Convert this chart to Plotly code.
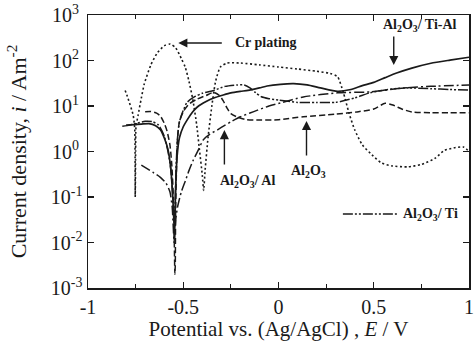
import plotly.graph_objects as go

# ---- data (potential in V vs Ag/AgCl, current density in A m^-2) ----
cr_x = [-0.805, -0.795, -0.763, -0.755, -0.753, -0.752, -0.750, -0.748, -0.737, -0.72, -0.705,
        -0.67, -0.637, -0.60, -0.568, -0.54, -0.51, -0.49, -0.47, -0.45, -0.43, -0.415, -0.40,
        -0.393, -0.385, -0.37, -0.35, -0.33, -0.305, -0.27, -0.2, -0.1, 0.0, 0.1, 0.2, 0.27,
        0.31, 0.34, 0.37, 0.40, 0.44, 0.49, 0.54, 0.6, 0.68, 0.75, 0.82, 0.87, 0.92, 0.97, 1.0]
cr_y = [22, 17, 6.3, 3.3, 1.0, 0.1, 1.0, 3.5, 6.3, 15, 30,
        80, 145, 210, 230, 190, 110, 72, 35, 14, 4, 1.1, 0.3,
        0.14, 0.4, 2, 10, 35, 72, 88, 88, 80, 72, 65, 58, 52,
        44, 20, 7, 3, 1.4, 0.85, 0.56, 0.48, 0.46, 0.52, 0.7, 1.05, 1.2, 1.26, 1.0]

tial_x = [-0.80, -0.76, -0.72, -0.68, -0.645, -0.62, -0.60, -0.58, -0.565, -0.555, -0.549, -0.545,
          -0.54, -0.532, -0.52, -0.50, -0.48, -0.45, -0.426, -0.38, -0.34, -0.29, -0.25, -0.2,
          -0.16, -0.1, -0.06, 0.01, 0.08, 0.15, 0.22, 0.31, 0.38, 0.44, 0.5, 0.56, 0.62, 0.7,
          0.8, 0.9, 1.0]
tial_y = [3.8, 3.9, 4.0, 4.1, 3.7, 3.0, 2.0, 1.1, 0.4, 0.1, 0.03, 0.02,
          0.15, 0.8, 2.0, 3.5, 4.9, 7.5, 9.5, 12.5, 15, 17.5, 19.5, 21,
          22, 25, 27.5, 30, 31, 29, 25, 21, 23, 28, 33, 42, 53, 68,
          87, 102, 118]

al2o3_x = [-0.70, -0.67, -0.64, -0.62, -0.60, -0.585, -0.57, -0.56, -0.552, -0.547, -0.544, -0.542,
           -0.54, -0.535, -0.53, -0.52, -0.50, -0.47, -0.43, -0.38, -0.34, -0.31, -0.29, -0.27,
           -0.25, -0.22, -0.17, -0.1, 0.0, 0.13, 0.3, 0.42, 0.5, 0.56, 0.6, 0.65, 0.7, 0.8, 0.9, 1.0]
al2o3_y = [7.5, 7.6, 7.0, 6.0, 4.2, 2.8, 1.4, 0.5, 0.1, 0.01, 0.002, 0.003,
           0.05, 0.5, 2, 4.5, 7.5, 11, 14, 17, 20, 17, 13, 9,
           6.8, 5.8, 5.0, 4.9, 5.0, 5.8, 6.6, 7.5, 8.6, 11.5, 10.5, 8.5, 7.4, 7.1, 7.1, 7.1]

alal_x = [-0.72, -0.69, -0.66, -0.62, -0.59, -0.57, -0.558, -0.552, -0.548, -0.54, -0.53, -0.51,
          -0.49, -0.47, -0.447, -0.42, -0.395, -0.36, -0.32, -0.28, -0.25, -0.2, -0.15, -0.11,
          -0.05, 0.01, 0.13, 0.31, 0.48, 0.66, 0.8, 1.0]
alal_y = [0.5, 0.42, 0.35, 0.27, 0.2, 0.13, 0.06, 0.02, 0.01, 0.03, 0.06, 0.13,
          0.22, 0.38, 0.65, 1.1, 1.8, 2.4, 3.0, 3.8, 4.5, 5.8, 7, 8.1,
          10, 11.7, 15.8, 19.5, 20.4, 25, 27, 29]

alti_x = [-0.82, -0.78, -0.74, -0.70, -0.66, -0.63, -0.60, -0.58, -0.565, -0.555, -0.549, -0.546,
          -0.543, -0.538, -0.53, -0.52, -0.50, -0.48, -0.44, -0.40, -0.34, -0.28, -0.22, -0.18,
          -0.15, -0.12, -0.09, -0.05, 0.0, 0.1, 0.2, 0.3, 0.4, 0.48, 0.56, 0.66, 0.8, 0.9, 1.0]
alti_y = [3.6, 3.8, 4.2, 4.6, 4.5, 3.8, 2.2, 1.0, 0.4, 0.1, 0.03, 0.01,
          0.05, 0.4, 2, 4.5, 8, 12, 16, 19, 22, 27, 29, 29,
          25, 19.6, 16, 14.5, 13.5, 12, 12, 12, 15, 19.5, 22.5, 25, 24, 23, 22.6]

x_ticks = [-1, -0.5, 0, 0.5, 1]
x_tick_labels = ["-1", "-0.5", "0", "0.5", "1"]
y_ticks = [1e-3, 1e-2, 1e-1, 1e0, 1e1, 1e2, 1e3]
y_tick_labels = ["10<sup>-3</sup>", "10<sup>-2</sup>", "10<sup>-1</sup>", "10<sup>0&nbsp;</sup>",
                 "10<sup>1&nbsp;</sup>", "10<sup>2&nbsp;</sup>", "10<sup>3&nbsp;</sup>"]

INK = "#1a1a1a"
SERIF = "Liberation Serif, Times New Roman, serif"

fig = go.Figure()
series = [
    (cr_x, cr_y, "Cr plating", "2px,2.5px", 1.6),
    (al2o3_x, al2o3_y, "Al2O3", "6px,3px", 1.5),
    (alal_x, alal_y, "Al2O3/Al", "10px,3px,2px,3px", 1.5),
    (alti_x, alti_y, "Al2O3/Ti", "10px,2px,2px,2px,2px,2px", 1.5),
    (tial_x, tial_y, "Al2O3/Ti-Al", "solid", 1.7),
]
for xs, ys, name, dash, w in series:
    fig.add_trace(go.Scatter(x=xs, y=ys, mode="lines", name=name, showlegend=False,
                             line=dict(color=INK, width=w, dash=dash, shape="spline", smoothing=0.6)))

label_font = dict(family=SERIF, size=14, color=INK)

def arrow(x, y, ax, ay):
    fig.add_annotation(x=x, y=y, xref="x", yref="y", ax=ax, ay=ay, text="", showarrow=True,
                       arrowhead=2, arrowsize=1.3, arrowwidth=1.4, arrowcolor=INK)

# Cr plating
arrow(-0.526, 2.385, 45, 0)
fig.add_annotation(x=-0.24, y=2.385, xref="x", yref="y", text="<b>Cr plating</b>", showarrow=False,
                   xanchor="left", yanchor="middle", font=label_font)
# Al2O3/Ti-Al
arrow(0.605, 1.90, 0, -30)
fig.add_annotation(x=0.742, y=2.78, xref="x", yref="y",
                   text="<b>Al<sub>2</sub>O<sub>3</sub>/ Ti-Al</b>", showarrow=False,
                   xanchor="center", yanchor="middle", font=label_font)
# Al2O3
arrow(0.147, 0.67, 0, 36)
fig.add_annotation(x=0.158, y=-0.45, xref="x", yref="y",
                   text="<b>Al<sub>2</sub>O<sub>3</sub></b>", showarrow=False,
                   xanchor="center", yanchor="middle", font=label_font)
# Al2O3/Al
arrow(-0.284, 0.47, 0, 36)
fig.add_annotation(x=-0.163, y=-0.65, xref="x", yref="y",
                   text="<b>Al<sub>2</sub>O<sub>3</sub>/ Al</b>", showarrow=False,
                   xanchor="center", yanchor="middle", font=label_font)
# legend-like key for Al2O3/Ti
fig.add_shape(type="line", xref="paper", yref="paper", x0=0.669, x1=0.814, y0=0.271, y1=0.271,
              line=dict(color=INK, width=1.5, dash="10px,2px,2px,2px,2px,2px"))
fig.add_annotation(x=0.642, y=-1.374, xref="x", yref="y",
                   text="<b>Al<sub>2</sub>O<sub>3</sub>/ Ti</b>", showarrow=False,
                   xanchor="left", yanchor="middle", font=label_font)

axis_common = dict(showline=True, linecolor=INK, linewidth=1.5, mirror="ticks", ticks="inside",
                   tickcolor=INK, tickwidth=1.3, showgrid=False, zeroline=False, automargin=False,
                   ticklabeloverflow="allow",
                   tickfont=dict(family=SERIF, size=20, color=INK))

fig.update_xaxes(range=[-1, 1], tickvals=x_ticks, ticktext=x_tick_labels, ticklen=6,
                 minor=dict(tickvals=[-0.75, -0.25, 0.25, 0.75], ticks="inside", ticklen=4,
                            tickcolor=INK, tickwidth=1.2),
                 title=dict(text="Potential vs. (Ag/AgCl) , <i>E</i> / V",
                            font=dict(family=SERIF, size=21, color=INK), standoff=2),
                 **axis_common)
fig.update_yaxes(type="log", range=[-3, 3], tickvals=y_ticks, ticktext=y_tick_labels, ticklen=6,
                 title=dict(text="Current density, <i>i</i> / Am<sup>-2</sup>",
                            font=dict(family=SERIF, size=22, color=INK), standoff=18),
                 **axis_common)

fig.update_layout(width=474, height=350, margin=dict(l=88, r=5, t=15, b=62),
                  paper_bgcolor="white", plot_bgcolor="white", showlegend=False,
                  hovermode=False)

# remove the default 8px page margin so the figure fills the window exactly
fig.write_html("out.html", config={"displayModeBar": False, "staticPlot": True},
               post_script="document.body.style.margin='0';document.body.style.overflow='hidden';")
